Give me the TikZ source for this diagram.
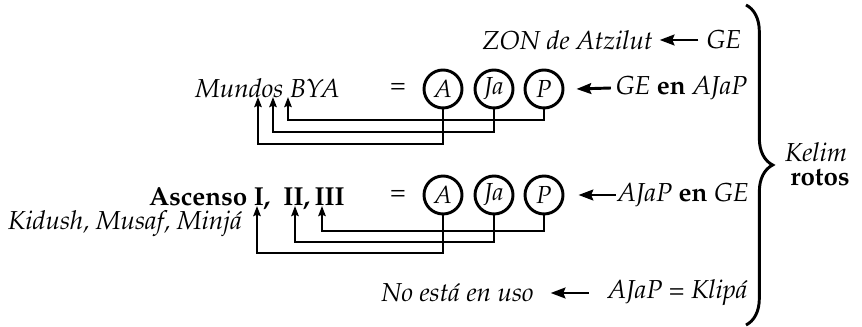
\documentclass[tikz,border=0pt]{standalone}
\usepackage[T1]{fontenc}
\usepackage{mathpazo}
\usetikzlibrary{arrows.meta,decorations.pathreplacing}
\begin{document}
\begin{tikzpicture}[x=0.75pt,y=-0.75pt,
 txt/.style={inner sep=0pt,font=\fontsize{19.5}{23}\selectfont},
 it/.style={inner sep=0pt,font=\fontsize{19.5}{23}\selectfont\itshape},
 bf/.style={inner sep=0pt,font=\fontsize{19.5}{23}\selectfont\bfseries},
 circ/.style={circle,draw,line width=2.2pt,minimum size=28.5pt,inner sep=0pt,font=\fontsize{18.5}{21}\selectfont\itshape},
 conn/.style={line width=2.2pt,-{Stealth[length=7.5pt,width=5.5pt,inset=1pt]}},
 bigarr/.style={line width=2.2pt,-{Stealth[length=11pt,width=8pt,inset=1.5pt]}},
]
\useasboundingbox (0,0) rectangle (862,327);

% row 0
\node[it] (zon) at (567.5,40) {ZON de Atzilut};
\node[it] (ge0) at (724,40) {GE};
\draw[bigarr] ([xshift=-6pt]ge0.west) -- ([xshift=5pt]zon.east);

% row 1
\node[it] (mundos) at (267.5,88) {Mundos BYA};
\node[txt] (eq1) at (398,88) {=};
\node[circ] (A1) at (443,89) {A};
\node[circ] (J1) at (494,89) {Ja};
\node[circ] (P1) at (544,89) {P};
\node[txt] (lab1) at (681.5,88) {\itshape GE \upshape\bfseries en \mdseries\itshape AJaP};
\draw[bigarr] ([xshift=-3.5pt]lab1.west) -- ([xshift=9pt]P1.east);

\coordinate (t11) at (258,97);
\coordinate (t12) at (273,97);
\coordinate (t13) at (288,97);
\coordinate (h11) at (258,144);
\coordinate (h12) at (273,132);
\coordinate (h13) at (288,120);
\draw[conn] (A1.south) |- (h11) -- (t11);
\draw[conn] (J1.south) |- (h12) -- (t12);
\draw[conn] (P1.south) |- (h13) -- (t13);

% row 2
\node[bf,anchor=base,text depth=0pt] (asc) at (247,206) {Ascenso I,\ \ II,\,III};
\node[it,anchor=base,text height=10pt] (kid) at (125,230) {Kidush, Musaf, Minj\'a};
\node[txt] (eq2) at (398,195) {=};
\node[circ] (A2) at (443,195) {A};
\node[circ] (J2) at (494,195) {Ja};
\node[circ] (P2) at (544,195) {P};
\node[txt] (lab2) at (683,195) {\itshape AJaP \upshape\bfseries en \mdseries\itshape GE};
\draw[bigarr] ([xshift=-1pt]lab2.west) -- ([xshift=10.5pt]P2.east);

\coordinate (t21) at (257,206);
\coordinate (t22) at (295,206);
\coordinate (t23) at (322,206);
\coordinate (h21) at (257,253);
\coordinate (h22) at (295,242);
\coordinate (h23) at (322,231);
\draw[conn] (A2.south) |- (h21) -- (t21);
\draw[conn] (J2.south) |- (h22) -- (t22);
\draw[conn] (P2.south) |- (h23) -- (t23);

% row 3
\node[it] (nouso) at (457.5,293) {No est\'a en uso};
\node[it] (klipa) at (677.5,293) {AJaP = Klip\'a};
\draw[bigarr] ([xshift=-14pt]klipa.west) -- ([xshift=12.5pt]nouso.east);

% brace
\coordinate (b1) at (746,5);
\coordinate (b2) at (746,325);
\draw[line width=2.2pt,decorate,decoration={brace,amplitude=20pt,aspect=0.5}] (b1) -- (b2);
\node[it] (kelim) at (816,152) {Kelim};
\node[bf] (rotos) at (820,178) {rotos};
\end{tikzpicture}
\end{document}
